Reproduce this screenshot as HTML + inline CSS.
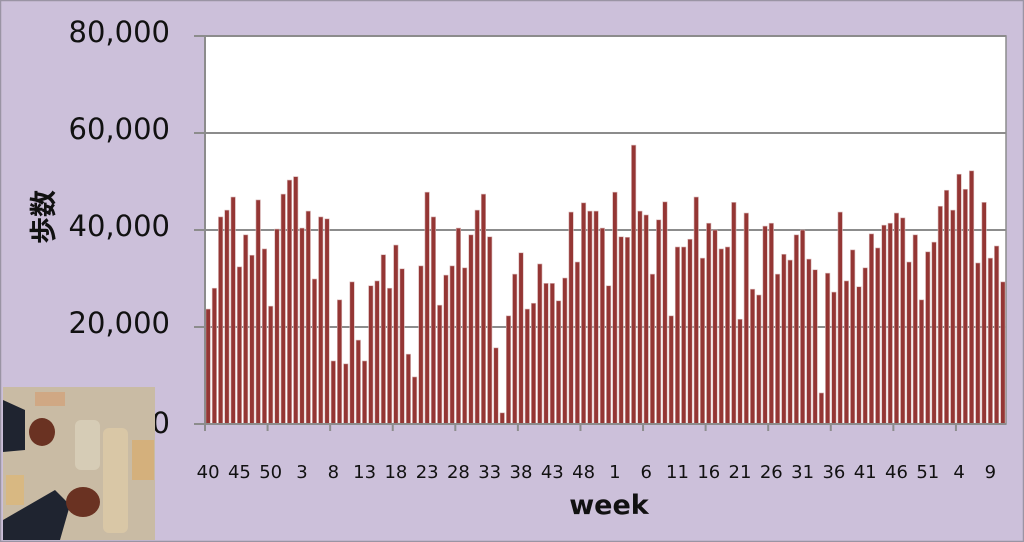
<!DOCTYPE html>
<html><head><meta charset="utf-8"><style>
html,body{margin:0;padding:0;background:#ccc0da;}
svg{display:block;}
</style></head><body>
<svg id="c" width="1024" height="542" xmlns="http://www.w3.org/2000/svg" font-family="'DejaVu Sans','Liberation Sans',sans-serif">
<rect x="0.5" y="0.5" width="1023" height="541" fill="#ccc0da" stroke="#9a94a4" stroke-width="1.5"/>
<rect x="205" y="36" width="801" height="388" fill="#ffffff" stroke="#8c8c8c" stroke-width="1.5"/>
<g stroke="#8c8c8c" stroke-width="2">
<line x1="194" y1="36" x2="1006" y2="36"/>
<line x1="194" y1="133" x2="1006" y2="133"/>
<line x1="194" y1="230" x2="1006" y2="230"/>
<line x1="194" y1="327" x2="1006" y2="327"/>
</g>
<g id="bars" fill="#943634" stroke="#d9b8b8" stroke-width="0.6"></g>
<line x1="194" y1="424" x2="1006" y2="424" stroke="#8c8c8c" stroke-width="2"/>
<line x1="205" y1="36" x2="205" y2="424" stroke="#8c8c8c" stroke-width="2"/>
<g id="ticks" stroke="#8c8c8c" stroke-width="2"></g>
<g font-size="29" fill="#111" text-anchor="end">
<text x="170" y="42">80,000</text>
<text x="170" y="139">60,000</text>
<text x="170" y="236">40,000</text>
<text x="170" y="333">20,000</text>
<text x="170" y="433">0</text>
</g>
<g id="xl" font-size="18" fill="#111" text-anchor="middle"></g>
<text x="609" y="514" font-size="27" font-weight="bold" text-anchor="middle" fill="#111">week</text>
<text transform="translate(53,217) rotate(-90)" font-size="27" font-weight="bold" text-anchor="middle" fill="#111" font-family="'Liberation Sans','Noto Sans CJK JP',sans-serif">歩数</text>
<g>
<rect x="3" y="387" width="152" height="153" fill="#c9bba4"/>
<rect x="35" y="392" width="30" height="14" fill="#d0a884"/>
<rect x="75" y="420" width="25" height="50" rx="6" fill="#d6ccb6"/>
<rect x="103" y="428" width="25" height="105" rx="6" fill="#d9c7a6"/>
<rect x="132" y="440" width="22" height="40" fill="#d4b07c"/>
<rect x="6" y="475" width="18" height="30" fill="#d8b882"/>
<polygon points="3,400 25,410 25,450 3,452" fill="#1f2430"/>
<ellipse cx="42" cy="432" rx="13" ry="14" fill="#6a3222"/>
<polygon points="3,520 55,490 70,505 60,540 3,540" fill="#1f2430"/>
<ellipse cx="83" cy="502" rx="17" ry="15" fill="#6a3222"/>
</g>
</svg>
<script>
var v=[23.7,28,42.7,44.1,46.8,32.4,39,34.8,46.2,36.1,24.3,40.2,47.4,50.3,51,40.4,43.9,29.9,42.7,42.3,13,25.6,12.4,29.3,17.3,13,28.5,29.5,34.9,28,36.9,32,14.4,9.7,32.6,47.8,42.7,24.5,30.7,32.6,40.4,32.2,39,44.1,47.4,38.6,15.7,2.3,22.3,30.9,35.3,23.7,24.9,33,29,29,25.4,30.1,43.7,33.4,45.6,43.9,43.9,40.4,28.5,47.8,38.6,38.5,57.5,43.9,43.1,30.9,42.1,45.8,22.3,36.5,36.5,38.1,46.8,34.2,41.4,40,36.1,36.5,45.7,21.6,43.5,27.8,26.6,40.8,41.4,30.9,35,33.8,39,40,34,31.8,6.4,31.1,27.2,43.7,29.5,35.9,28.3,32.2,39.2,36.3,41,41.4,43.5,42.5,33.4,39,25.6,35.5,37.5,44.9,48.2,44.1,51.5,48.4,52.2,33.2,45.7,34.2,36.7,29.3];
var ns="http://www.w3.org/2000/svg",st=801/128,g=document.getElementById("bars"),t=document.getElementById("ticks"),xl=document.getElementById("xl");
function el(n,a,p){var e=document.createElementNS(ns,n);for(var k in a)e.setAttribute(k,a[k]);p.appendChild(e);return e;}
for(var i=0;i<v.length;i++){var h=v[i]*4.85;el("rect",{x:(205+st*i+0.9).toFixed(2),y:(424-h).toFixed(2),width:(st-1.8).toFixed(2),height:h.toFixed(2)},g);}
for(var k=0;k<=12;k++){var x=205+st*10*k;el("line",{x1:x,y1:424,x2:x,y2:431},t);}
for(var i=0;i<128;i+=5){var wk=((39+i)%52)+1;var tx=el("text",{x:(205+st*(i+0.5)).toFixed(1),y:478},xl);tx.textContent=wk;}
</script>
</body></html>
